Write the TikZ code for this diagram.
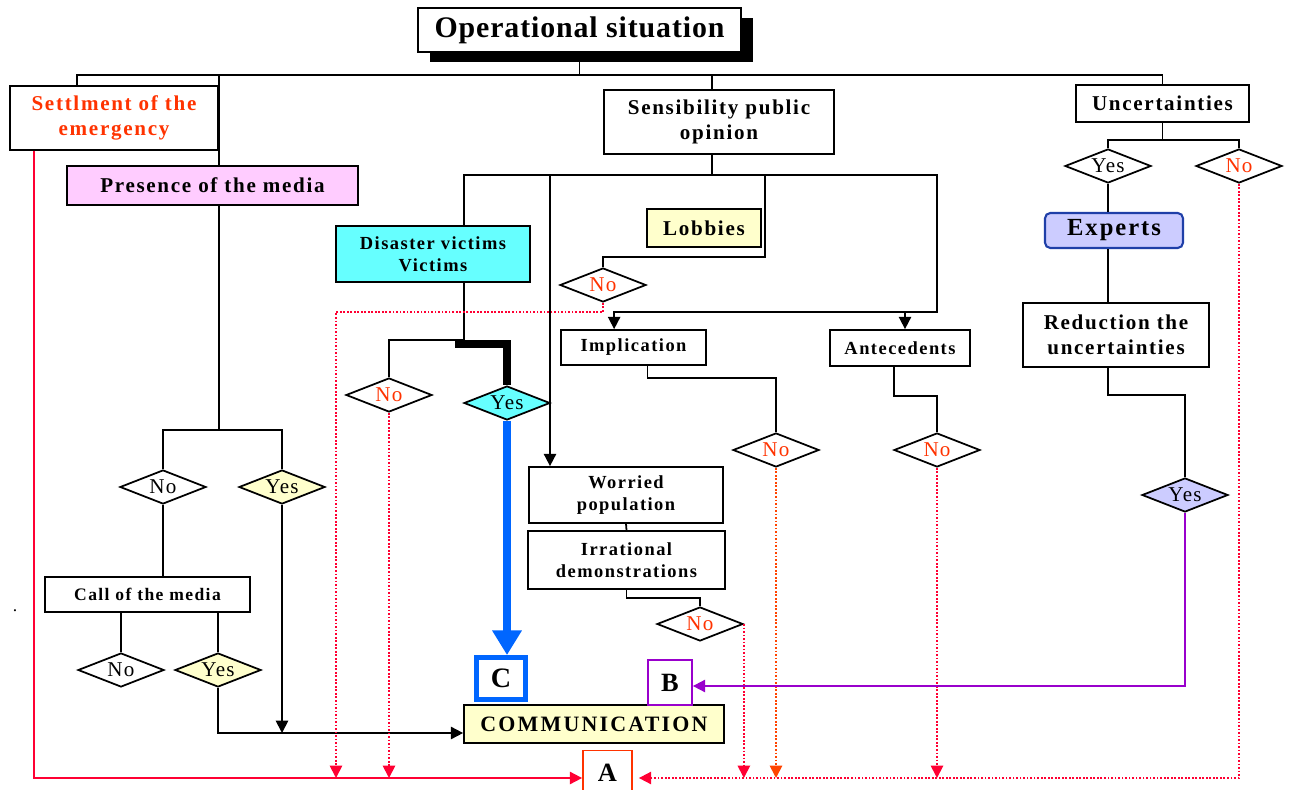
\documentclass[tikz,border=0pt]{standalone}
\usepackage{fontspec}
\setmainfont{Liberation Serif}
\newfontfamily\boxfont{Liberation Serif}[LetterSpace=8]
\newfontfamily\commfont{Liberation Serif}[LetterSpace=10]
\newfontfamily\opfont{Liberation Serif}[LetterSpace=3]
\newfontfamily\dfont{Liberation Serif}[LetterSpace=6]
\usepackage{tikz}
\usepackage{xcolor}
\usetikzlibrary{arrows.meta, shapes.geometric, calc, positioning, shadows}
\definecolor{emred}{HTML}{FF3300}
\definecolor{linered}{HTML}{FF0033}
\definecolor{mediapink}{HTML}{FFCCFF}
\definecolor{victimcyan}{HTML}{66FFFF}
\definecolor{paleyellow}{HTML}{FFFFCC}
\definecolor{expertblue}{HTML}{CCCCFF}
\definecolor{expertedge}{HTML}{1F3FA8}
\definecolor{arrowblue}{HTML}{0066FF}
\definecolor{linepurple}{HTML}{9900CC}
\definecolor{dotorange}{HTML}{FF4400}

\begin{document}
\begin{tikzpicture}[x=0.02cm, y=-0.02cm, line width=1pt, >={Triangle[length=7pt,width=7pt]},
    txtbox/.style={draw, fill=white, inner sep=1pt, align=center, font=\boxfont\bfseries\fontsize{12}{14.5}\selectfont},
    smallbox/.style={txtbox, font=\boxfont\bfseries\fontsize{10.5}{12.5}\selectfont},
    choice/.style={diamond, draw, fill=white, inner sep=0pt, shape aspect=2.5, minimum width=1.72cm, minimum height=0.68cm, font=\dfont\fontsize{12}{14}\selectfont},
    letterbox/.style={draw, fill=white, inner sep=0pt, font=\boxfont\bfseries\fontsize{15}{17}\selectfont},
    redots/.style={linered, dash pattern=on 1pt off 1pt}]
                        \useasboundingbox (0,0) rectangle (1290,790);
                        \fill[white] (0,0) rectangle (1290,790);

                        \node[txtbox, general shadow={fill=black, shadow xshift=0.24cm, shadow yshift=-0.2cm}, minimum width=6.46cm, minimum height=0.88cm, font=\opfont\bfseries\fontsize{17}{20}\selectfont] (op) at (579.5,30) {Operational situation};
                        \node[txtbox, text=emred, minimum width=4.16cm, minimum height=1.28cm] (settle) at (114,118) {Settlment of the\\emergency};
                        \node[txtbox, fill=mediapink, minimum width=5.82cm, minimum height=0.78cm] (presence) at (212.5,185.5) {Presence of the media};
                        \node[txtbox, minimum width=4.6cm, minimum height=1.28cm] (sens) at (719,122) {Sensibility public\\opinion};
                        \node[txtbox, minimum width=3.46cm, minimum height=0.74cm] (uncert) at (1162.5,103.5) {Uncertainties};
                        \node[smallbox, fill=victimcyan, minimum width=3.88cm, minimum height=1.12cm] (victims) at (433,254) {Disaster victims\\Victims};
                        \node[txtbox, fill=paleyellow, minimum width=2.28cm, minimum height=0.76cm] (lobbies) at (704,228) {Lobbies};
                        \node[smallbox, minimum width=2.9cm, minimum height=0.7cm] (impl) at (633.5,347.5) {Implication};
                        \node[smallbox, minimum width=2.8cm, minimum height=0.72cm] (ante) at (900,348) {Antecedents};
                        \node[txtbox, rounded corners=3pt, draw=expertedge, line width=1.2pt, fill=expertblue, minimum width=2.76cm, minimum height=0.7cm, font=\boxfont\bfseries\fontsize{14}{16}\selectfont] (experts) at (1114,230.5) {Experts};
                        \node[txtbox, minimum width=3.72cm, minimum height=1.28cm] (reduct) at (1116,335) {Reduction the\\uncertainties};
                        \node[smallbox, minimum width=3.88cm, minimum height=1.12cm] (worried) at (626,495) {Worried\\population};
                        \node[smallbox, minimum width=3.94cm, minimum height=1.16cm] (irrat) at (626.5,560) {Irrational\\demonstrations};
                        \node[smallbox, minimum width=4.1cm, minimum height=0.7cm, font=\boxfont\bfseries\fontsize{10}{12}\selectfont] (call) at (147.5,594.5) {Call of the media};
                        \node[txtbox, fill=paleyellow, minimum width=5.2cm, minimum height=0.76cm, font=\commfont\bfseries\fontsize{12.5}{14}\selectfont] (comm) at (594,724) {COMMUNICATION};
                        \node[letterbox, draw=arrowblue, line width=2.8pt, minimum width=0.98cm, minimum height=0.84cm, font=\boxfont\bfseries\fontsize{16}{18}\selectfont] (C) at (501,678.5) {C};
                        \node[letterbox, draw=linepurple, line width=1pt, minimum width=0.88cm, minimum height=0.9cm] (B) at (670,682.5) {B};
                        \node[letterbox, draw=emred, line width=1pt, minimum width=0.98cm, minimum height=0.88cm] (A) at (607.5,772.5) {A};
                        \node[inner sep=0pt] (dot) at (15,611) {.};

                        \foreach \nm/\px/\py in {dVicNo/389/395, dLobNo/603/285, dImpNo/776/450, dAntNo/937/450, dIrrNo/700/624, dUncNo/1239/166} {
                            \node[choice, text=emred] (\nm) at (\px,\py) {No};
                        }
                        \node[choice] (dPresNo) at (163,487) {No};
                        \node[choice] (dCallNo) at (121,670) {No};
                        \node[choice, fill=paleyellow] (dPresYes) at (282,487) {Yes};
                        \node[choice, fill=paleyellow] (dCallYes) at (218,670) {Yes};
                        \node[choice, fill=victimcyan] (dVicYes) at (507,403) {Yes};
                        \node[choice] (dUncYes) at (1108,166) {Yes};
                        \node[choice, fill=expertblue] (dRedYes) at (1185,495) {Yes};

                        \coordinate (bus) at (579.5,75);
                        \coordinate (sBus) at (712,175);
                        \coordinate (vicX) at (464,340);
                        \coordinate (wX) at (550,175);
                        \coordinate (lobE) at (765,257);
                        \coordinate (aBus) at (937,312);
                        \coordinate (lobDot) at (336,312);
                        \path (settle.east) ++(0,312) coordinate (pSplit);
                        \path (uncert.south) ++(0,17) coordinate (uSplit);
                        \coordinate (base) at (0,778);
                        \coordinate (commIn) at (0,733);
                        \coordinate (bIn) at (0,686);

                        \draw (op.south) -- (bus);
                        \draw ($(settle.north west)+(68,0)$) |- (bus) -| (uncert.north);
                        \draw (bus -| sBus) -- (sens.north -| sBus);
                        \draw (settle.north east |- bus) -- (settle.south east) -- (settle.south east |- presence.north);
                        \draw (settle.east |- presence.south) -- (pSplit);
                        \draw (dPresNo.north) |- (pSplit) -| (dPresYes.north);
                        \draw (dPresNo.south) -- (dPresNo.south |- call.north);
                        \draw (call.south -| dCallNo.north) -- (dCallNo.north);
                        \draw (call.south -| dCallYes.north) -- (dCallYes.north);
                        \draw[->] (dCallYes.south) |- (comm.west |- commIn);
                        \draw[->] (dPresYes.south) -- (dPresYes.south |- commIn);
                        \draw[linered, ->] ($(settle.south west)+(25,0)$) |- (A.west |- base);

                        \draw (sens.south -| sBus) -- (sBus);
                        \draw[->] (vicX |- victims.north) |- (sBus) -| (aBus) -| ($(impl.north west)+(54,0)$);
                        \draw[->] (aBus -| 905,0) -- ($(ante.north)+(5,0)$);
                        \draw[->] (wX) -- (wX |- worried.north);
                        \draw (lobE |- sBus) -- (lobE) -| (dLobNo.north);
                        \draw (vicX |- victims.south) -- (vicX) -| (dVicNo.north);
                        \draw[line width=4.5pt] ($(dVicYes.north)+(-52,-41)$) -| (dVicYes.north);
                        \draw[arrowblue, line width=4.5pt, -{Triangle[length=14pt,width=16pt]}] (dVicYes.south) -- (C.north -| dVicYes.south);
                        \draw ($(impl.south)+(14,0)$) -- ++(0,12) -| (dImpNo.north);
                        \draw ($(ante.south)+(-6,0)$) -- ++(0,29) -| (dAntNo.north);
                        \draw (worried.south) -- (irrat.north);
                        \draw (irrat.south) -- ++(0,8) -| (dIrrNo.north);

                        \draw[redots, ->] (dLobNo.south) |- (lobDot) -- (lobDot |- base);
                        \draw[redots, ->] (dVicNo.south) -- (dVicNo.south |- base);
                        \draw[redots, ->] (dIrrNo.east) -- (dIrrNo.east |- base);
                        \draw[redots, dotorange, ->] (dImpNo.south) -- (dImpNo.south |- base);
                        \draw[redots, ->] (dAntNo.south) -- (dAntNo.south |- base);
                        \draw[redots, ->] (dUncNo.south) |- ($(A.east |- base)+(6,0)$);

                        \draw (uncert.south) -- (uSplit);
                        \draw (dUncYes.north) |- (uSplit) -| (dUncNo.north);
                        \draw (dUncYes.south) -- (dUncYes.south |- experts.north);
                        \draw (experts.south -| dUncYes.south) -- (reduct.north -| dUncYes.south);
                        \draw ($(reduct.south)+(-8,0)$) -- ++(0,27) -| (dRedYes.north);
                        \draw[linepurple, ->] (dRedYes.south) |- (B.east |- bIn);
                    \end{tikzpicture}
\end{document}
